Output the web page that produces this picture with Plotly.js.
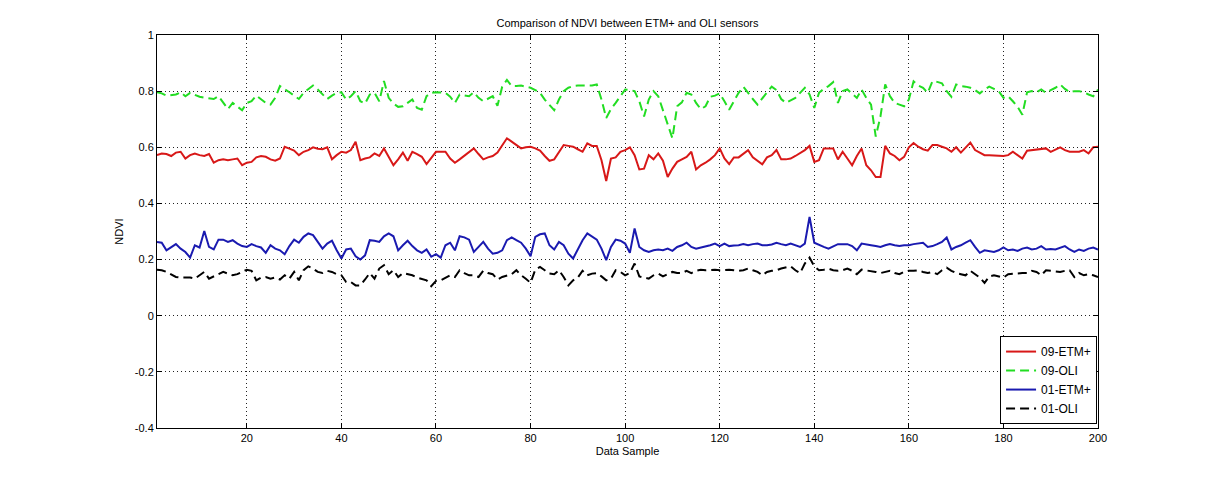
<!DOCTYPE html>
<html>
<head>
<meta charset="utf-8">
<script src="https://cdn.plot.ly/plotly-3.0.1.min.js"></script>
<style>html,body{margin:0;padding:0;background:#fff;}#chart{width:1212px;height:480px;}</style>
</head>
<body>
<div id="chart"></div>
<script>
const seriesNames = ["09-ETM+", "09-OLI", "01-ETM+", "01-OLI"];
const xTicks = [20, 40, 60, 80, 100, 120, 140, 160, 180, 200];
const yTicks = [-0.4, -0.2, 0, 0.2, 0.4, 0.6, 0.8, 1];

const etm09 = [
0.572,0.578,0.576,0.569,0.581,0.584,0.560,0.572,0.578,0.572,
0.569,0.576,0.545,0.554,0.557,0.554,0.557,0.560,0.536,0.545,
0.548,0.564,0.569,0.566,0.557,0.552,0.560,0.602,0.595,0.588,
0.572,0.584,0.590,0.600,0.595,0.593,0.600,0.557,0.572,0.584,
0.581,0.590,0.620,0.554,0.560,0.564,0.578,0.569,0.596,0.564,
0.536,0.557,0.581,0.552,0.584,0.576,0.566,0.540,0.564,0.584,
0.584,0.584,0.560,0.545,0.557,0.569,0.584,0.596,0.576,0.557,
0.564,0.569,0.581,0.605,0.632,0.620,0.608,0.596,0.600,0.602,
0.596,0.588,0.569,0.552,0.557,0.581,0.608,0.605,0.602,0.593,
0.584,0.614,0.605,0.605,0.554,0.480,0.560,0.564,0.584,0.590,
0.600,0.572,0.521,0.524,0.572,0.557,0.578,0.552,0.494,0.524,
0.548,0.557,0.566,0.584,0.521,0.536,0.545,0.557,0.572,0.596,
0.560,0.540,0.564,0.564,0.576,0.590,0.564,0.552,0.539,0.564,
0.572,0.590,0.557,0.557,0.560,0.569,0.578,0.590,0.605,0.548,
0.554,0.596,0.596,0.596,0.557,0.584,0.560,0.536,0.569,0.596,
0.536,0.518,0.494,0.494,0.605,0.578,0.569,0.554,0.566,0.600,
0.615,0.602,0.593,0.588,0.608,0.608,0.602,0.596,0.584,0.600,
0.581,0.600,0.617,0.590,0.581,0.572,0.572,0.572,0.570,0.569,
0.572,0.584,0.572,0.560,0.588,0.590,0.593,0.595,0.596,0.584,
0.593,0.600,0.590,0.584,0.584,0.584,0.590,0.578,0.600,0.602
];

const oli09 = [
0.796,0.792,0.784,0.787,0.788,0.796,0.782,0.794,0.787,0.780,
0.777,0.775,0.772,0.782,0.758,0.736,0.758,0.746,0.732,0.758,
0.764,0.784,0.770,0.758,0.752,0.776,0.818,0.808,0.796,0.784,
0.772,0.794,0.808,0.820,0.806,0.788,0.772,0.784,0.794,0.796,
0.770,0.782,0.800,0.764,0.756,0.788,0.794,0.764,0.836,0.776,
0.756,0.744,0.746,0.758,0.770,0.740,0.734,0.782,0.794,0.796,
0.794,0.794,0.780,0.758,0.788,0.784,0.782,0.796,0.776,0.764,
0.772,0.782,0.748,0.816,0.840,0.818,0.818,0.820,0.816,0.812,
0.804,0.794,0.770,0.752,0.732,0.770,0.800,0.812,0.818,0.820,
0.820,0.818,0.820,0.824,0.770,0.704,0.736,0.758,0.782,0.806,
0.804,0.800,0.764,0.710,0.770,0.800,0.782,0.734,0.686,0.632,
0.746,0.760,0.794,0.788,0.758,0.736,0.746,0.780,0.784,0.792,
0.764,0.734,0.764,0.794,0.816,0.792,0.772,0.752,0.776,0.796,
0.816,0.804,0.772,0.758,0.767,0.776,0.794,0.812,0.788,0.740,
0.794,0.808,0.818,0.832,0.758,0.800,0.806,0.792,0.776,0.806,
0.776,0.752,0.638,0.710,0.824,0.782,0.758,0.752,0.746,0.770,
0.835,0.820,0.812,0.794,0.836,0.833,0.828,0.800,0.780,0.824,
0.818,0.816,0.812,0.804,0.792,0.806,0.816,0.808,0.800,0.776,
0.782,0.764,0.744,0.716,0.796,0.800,0.796,0.806,0.794,0.804,
0.812,0.824,0.808,0.796,0.800,0.800,0.796,0.788,0.782,0.806
];

const etm01 = [
0.263,0.260,0.233,0.245,0.255,0.239,0.227,0.207,0.251,0.243,
0.302,0.245,0.236,0.271,0.271,0.263,0.269,0.257,0.248,0.245,
0.255,0.248,0.243,0.224,0.251,0.239,0.233,0.219,0.248,0.271,
0.260,0.281,0.293,0.287,0.263,0.239,0.257,0.267,0.233,0.204,
0.236,0.239,0.212,0.200,0.215,0.269,0.267,0.263,0.283,0.293,
0.283,0.233,0.251,0.267,0.248,0.233,0.224,0.236,0.210,0.219,
0.207,0.251,0.260,0.233,0.283,0.279,0.271,0.227,0.245,0.263,
0.239,0.221,0.224,0.233,0.269,0.279,0.269,0.260,0.239,0.212,
0.281,0.290,0.293,0.251,0.236,0.263,0.251,0.221,0.204,0.239,
0.269,0.293,0.283,0.271,0.239,0.198,0.245,0.271,0.267,0.257,
0.224,0.311,0.245,0.233,0.227,0.233,0.236,0.233,0.239,0.231,
0.245,0.251,0.260,0.245,0.239,0.243,0.245,0.251,0.257,0.248,
0.257,0.248,0.250,0.251,0.255,0.251,0.255,0.257,0.251,0.251,
0.254,0.260,0.255,0.251,0.257,0.250,0.245,0.257,0.352,0.260,
0.251,0.245,0.239,0.248,0.255,0.255,0.255,0.248,0.233,0.257,
0.255,0.251,0.248,0.245,0.251,0.255,0.251,0.248,0.251,0.251,
0.255,0.257,0.260,0.245,0.248,0.255,0.263,0.279,0.236,0.245,
0.251,0.260,0.269,0.245,0.224,0.233,0.231,0.227,0.233,0.243,
0.233,0.236,0.231,0.239,0.243,0.236,0.239,0.248,0.236,0.238,
0.236,0.243,0.248,0.236,0.227,0.236,0.231,0.239,0.243,0.236
];

const oli01 = [
0.164,0.162,0.156,0.148,0.138,0.136,0.136,0.136,0.132,0.144,
0.156,0.132,0.140,0.148,0.156,0.150,0.144,0.148,0.156,0.164,
0.160,0.126,0.136,0.138,0.132,0.136,0.129,0.144,0.132,0.156,
0.126,0.162,0.176,0.168,0.156,0.152,0.160,0.156,0.148,0.144,
0.120,0.120,0.108,0.108,0.129,0.152,0.132,0.168,0.180,0.148,
0.162,0.138,0.152,0.148,0.144,0.136,0.132,0.126,0.105,0.124,
0.126,0.136,0.144,0.138,0.162,0.152,0.144,0.144,0.138,0.160,
0.152,0.148,0.129,0.138,0.144,0.148,0.162,0.144,0.132,0.117,
0.164,0.174,0.162,0.150,0.148,0.162,0.138,0.108,0.126,0.136,
0.160,0.144,0.150,0.152,0.140,0.126,0.132,0.162,0.156,0.144,
0.152,0.186,0.140,0.136,0.132,0.144,0.150,0.140,0.148,0.156,
0.152,0.152,0.160,0.152,0.160,0.164,0.162,0.164,0.164,0.162,
0.164,0.164,0.162,0.160,0.162,0.168,0.162,0.156,0.144,0.156,
0.160,0.162,0.168,0.171,0.176,0.162,0.152,0.186,0.207,0.176,
0.162,0.164,0.168,0.162,0.160,0.162,0.168,0.160,0.148,0.164,
0.162,0.160,0.156,0.152,0.156,0.160,0.152,0.148,0.156,0.160,
0.160,0.162,0.156,0.152,0.156,0.148,0.162,0.171,0.160,0.152,
0.148,0.144,0.160,0.148,0.136,0.117,0.140,0.144,0.140,0.136,
0.148,0.150,0.150,0.152,0.152,0.160,0.156,0.144,0.162,0.160,
0.156,0.156,0.160,0.162,0.138,0.152,0.144,0.148,0.144,0.138
];

const xs = etm09.map((_, i) => i + 1);

const traces = [
  {x: xs, y: etm09, name: seriesNames[0], type: "scatter", mode: "lines",
   line: {color: "#d81818", width: 2}},
  {x: xs, y: oli09, name: seriesNames[1], type: "scatter", mode: "lines",
   line: {color: "#22dd22", width: 2, dash: "9px,5px"}},
  {x: xs, y: etm01, name: seriesNames[2], type: "scatter", mode: "lines",
   line: {color: "#1a1ab0", width: 2}},
  {x: xs, y: oli01, name: seriesNames[3], type: "scatter", mode: "lines",
   line: {color: "#000000", width: 2, dash: "9px,5px"}}
];

const axisCommon = {
  showline: true, linecolor: "#000", linewidth: 1, mirror: "allticks",
  ticks: "inside", ticklen: 5, tickcolor: "#000",
  showgrid: true, gridcolor: "#222", griddash: "1px,3px", gridwidth: 1,
  zeroline: false,
  tickfont: {family: "Liberation Sans, Arial, sans-serif", size: 11, color: "#000"}
};

const layout = {
  width: 1212, height: 480,
  margin: {l: 157, r: 114, t: 35, b: 52},
  paper_bgcolor: "#fff", plot_bgcolor: "#fff",
  title: {text: "Comparison of NDVI between ETM+ and OLI sensors",
          font: {family: "Liberation Sans, Arial, sans-serif", size: 11, color: "#000"},
          x: 0.5, xref: "paper", y: 1, yref: "paper", yanchor: "bottom", pad: {b: 8}},
  xaxis: Object.assign({}, axisCommon, {
    range: [1, 200], tickvals: xTicks, ticktext: xTicks.map(String),
    title: {text: "Data Sample", standoff: 4,
            font: {family: "Liberation Sans, Arial, sans-serif", size: 11, color: "#000"}}
  }),
  yaxis: Object.assign({}, axisCommon, {
    range: [-0.4, 1], tickvals: yTicks, ticktext: yTicks.map(v => String(v)),
    title: {text: "NDVI", standoff: 8,
            font: {family: "Liberation Sans, Arial, sans-serif", size: 11, color: "#000"}}
  }),
  showlegend: true,
  legend: {x: 0.999, xanchor: "right", y: 0.01, yanchor: "bottom",
           bgcolor: "#fff", bordercolor: "#000", borderwidth: 1,
           font: {family: "Liberation Sans, Arial, sans-serif", size: 12, color: "#000"},
           tracegroupgap: 0, itemwidth: 30}
};

Plotly.newPlot("chart", traces, layout, {staticPlot: true, displayModeBar: false});
</script>
</body>
</html>
